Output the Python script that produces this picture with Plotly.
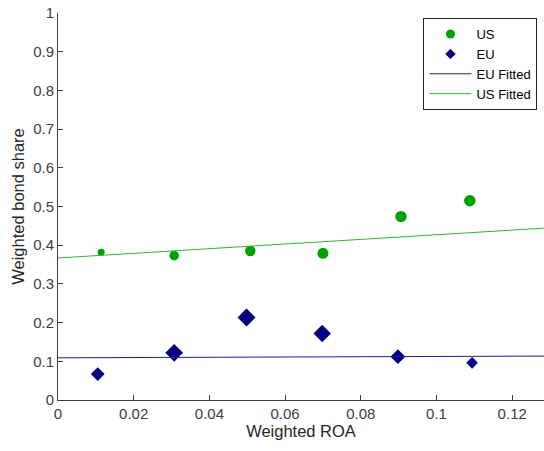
import numpy as np
import plotly.graph_objects as go

# Weighted ROA / bond share by bucket
us_roa = [0.0114, 0.0307, 0.0508, 0.0700, 0.0906, 0.1088]
us_share = [0.382, 0.373, 0.385, 0.379, 0.474, 0.515]
us_size = [7, 9.5, 10.5, 11, 11.3, 11.5]

eu_roa = [0.0105, 0.0307, 0.0498, 0.0698, 0.0898, 0.1094]
eu_share = [0.067, 0.122, 0.213, 0.172, 0.112, 0.096]
eu_size = [10.6, 13.6, 13.8, 13.4, 11.4, 9]

# Fitted line coefficients: [intercept, slope]
us_fit = [0.367, 0.60]
eu_fit = [0.109, 0.035]

x_max = 0.1284
x_ticks = [0, 0.02, 0.04, 0.06, 0.08, 0.1, 0.12]
x_ticklabels = ["0", "0.02", "0.04", "0.06", "0.08", "0.1", "0.12"]
y_ticks = [0, 0.1, 0.2, 0.3, 0.4, 0.5, 0.6, 0.7, 0.8, 0.9, 1]
y_ticklabels = ["0", "0.1", "0.2", "0.3", "0.4", "0.5", "0.6", "0.7", "0.8", "0.9", "1"]

US_GREEN = "#00a000"
EU_NAVY = "#000080"

fit_x = np.array([0.0, x_max])

fig = go.Figure()
fig.add_trace(go.Scatter(
    x=us_roa, y=us_share, mode="markers", name="US", showlegend=False,
    marker=dict(symbol="circle", size=us_size, color=US_GREEN, opacity=1, line=dict(width=0)),
))
fig.add_trace(go.Scatter(
    x=eu_roa, y=eu_share, mode="markers", name="EU", showlegend=False,
    marker=dict(symbol="diamond", size=eu_size, color=EU_NAVY, opacity=1, line=dict(width=0)),
))
fig.add_trace(go.Scatter(
    x=fit_x, y=eu_fit[0] + eu_fit[1] * fit_x, mode="lines", name="EU Fitted", showlegend=False,
    line=dict(color="#1f1f8f", width=1),
))
fig.add_trace(go.Scatter(
    x=fit_x, y=us_fit[0] + us_fit[1] * fit_x, mode="lines", name="US Fitted", showlegend=False,
    line=dict(color="#33b333", width=1),
))

# Legend entries with fixed symbol sizes
fig.add_trace(go.Scatter(x=[None], y=[None], mode="markers", name="US",
                         marker=dict(symbol="circle", size=9, color=US_GREEN)))
fig.add_trace(go.Scatter(x=[None], y=[None], mode="markers", name="EU",
                         marker=dict(symbol="diamond", size=8, color=EU_NAVY)))
fig.add_trace(go.Scatter(x=[None], y=[None], mode="lines", name="EU Fitted",
                         line=dict(color="#1f1f8f", width=1)))
fig.add_trace(go.Scatter(x=[None], y=[None], mode="lines", name="US Fitted",
                         line=dict(color="#33b333", width=1)))

axis_font = dict(family="Liberation Sans, Arial, sans-serif", size=15, color="#404040")
title_font = dict(family="Liberation Sans, Arial, sans-serif", size=16.5, color="#262626")

fig.update_layout(
    width=544, height=451,
    margin=dict(l=57.5, r=0, t=13, b=51),
    paper_bgcolor="white", plot_bgcolor="white",
    font=dict(family="Liberation Sans, Arial, sans-serif", size=13, color="#262626"),
    showlegend=True,
    legend=dict(
        x=0.752, y=0.987, xanchor="left", yanchor="top",
        bgcolor="white", bordercolor="#262626", borderwidth=1,
        font=dict(size=13, color="#000000"),
        itemsizing="trace", itemwidth=42, tracegroupgap=0,
    ),
    xaxis=dict(
        range=[0, x_max], tickvals=x_ticks, ticktext=x_ticklabels,
        ticks="inside", ticklen=5, tickcolor="#404040", tickfont=axis_font,
        showline=True, linecolor="#404040", linewidth=1, showgrid=False, zeroline=False,
        title=dict(text="Weighted ROA", font=title_font, standoff=4),
    ),
    yaxis=dict(
        range=[0, 1], tickvals=y_ticks, ticktext=y_ticklabels,
        ticks="inside", ticklen=5, tickcolor="#404040", tickfont=axis_font,
        showline=True, linecolor="#404040", linewidth=1, showgrid=False, zeroline=False,
        title=dict(text="Weighted bond share", font=title_font, standoff=4),
    ),
)

fig.write_html("out.html")
